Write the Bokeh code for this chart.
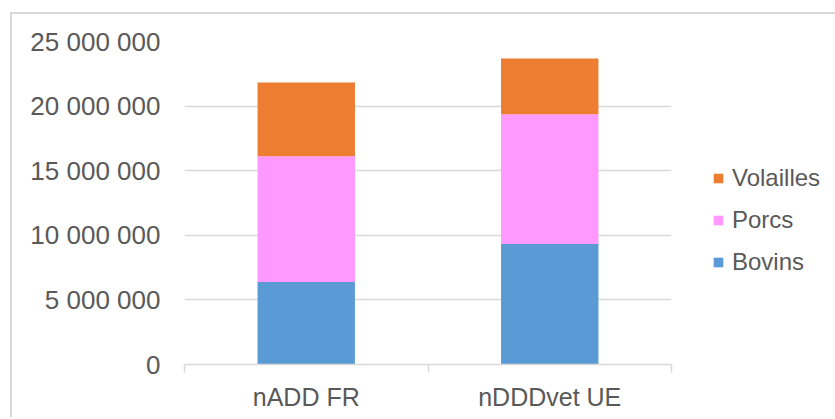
from bokeh.plotting import figure
from bokeh.models import FixedTicker, Legend, LegendItem, ColumnDataSource, Range1d
from bokeh.embed import file_html
from bokeh.resources import INLINE

categories = ["nADD FR", "nDDDvet UE"]
series = ["Bovins", "Porcs", "Volailles"]
bovins = [6390000, 9330000]
porcs = [9730000, 10040000]
volailles = [5710000, 4310000]
y_ticks = [0, 5000000, 10000000, 15000000, 20000000, 25000000]
colors = ["#5b9bd5", "#ff99ff", "#ed7d31"]

FONT = "Liberation Sans"
TXT = "#595959"
GRID = "#d9d9d9"

xpos = [i + 0.5 for i in range(len(categories))]
source = ColumnDataSource(dict(x=xpos, Bovins=bovins, Porcs=porcs, Volailles=volailles))

p = figure(
    output_backend="svg", toolbar_location=None,
    frame_width=487, frame_height=323,
    min_border_left=172, min_border_right=160, min_border_top=27, min_border_bottom=53,
    x_range=Range1d(0, len(categories)), y_range=Range1d(0, y_ticks[-1]),
)
p.margin = (12, 0, 0, 10)
p.styles = {"border-top": "2px solid #d9d9d9", "border-left": "2px solid #d9d9d9"}

renderers = p.vbar_stack(series, x="x", width=0.4, source=source, color=colors, line_width=0)

p.outline_line_color = None
p.background_fill_color = "white"
p.border_fill_color = "white"

# y axis
p.yaxis.ticker = FixedTicker(ticks=y_ticks, minor_ticks=[])
p.yaxis.major_label_overrides = {v: f"{v:,}".replace(",", " ") for v in y_ticks}
p.yaxis.axis_line_color = None
p.yaxis.major_tick_line_color = None
p.yaxis.minor_tick_line_color = None
p.yaxis.major_tick_out = 0
p.yaxis.major_label_standoff = 24
p.yaxis.major_label_text_font = FONT
p.yaxis.major_label_text_font_size = "26px"
p.yaxis.major_label_text_color = TXT

# x axis
p.xaxis.ticker = FixedTicker(ticks=xpos, minor_ticks=list(range(len(categories) + 1)))
p.xaxis.major_label_overrides = {x: c for x, c in zip(xpos, categories)}
p.xaxis.axis_line_color = GRID
p.xaxis.axis_line_width = 1.5
p.xaxis.major_tick_line_color = None
p.xaxis.major_tick_out = 0
p.xaxis.minor_tick_line_color = GRID
p.xaxis.minor_tick_line_width = 1.5
p.xaxis.minor_tick_out = 8
p.xaxis.minor_tick_in = 0
p.xaxis.major_label_standoff = 10
p.xaxis.major_label_text_font = FONT
p.xaxis.major_label_text_font_size = "25px"
p.xaxis.major_label_text_color = TXT

p.xgrid.grid_line_color = None
p.ygrid.grid_line_color = GRID
p.ygrid.grid_line_width = 1.5

items = [LegendItem(label=s, renderers=[r]) for s, r in zip(series, renderers)][::-1]
legend = Legend(items=items, location=(41, 88), orientation="vertical",
                glyph_width=12, glyph_height=12, label_standoff=8,
                padding=0, margin=0, spacing=14,
                label_text_font=FONT, label_text_font_size="24px", label_text_color=TXT,
                border_line_color=None, background_fill_alpha=0)
p.add_layout(legend, "right")

open("out.html", "w").write(file_html(p, INLINE))
